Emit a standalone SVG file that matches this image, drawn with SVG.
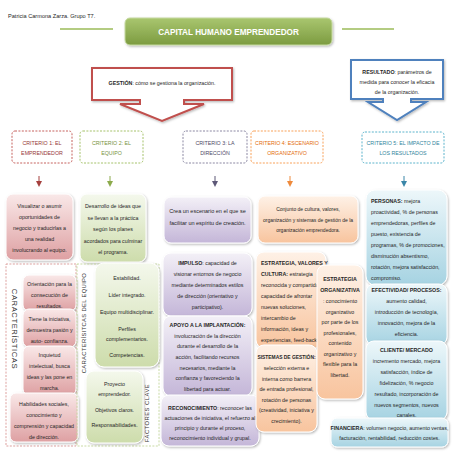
<svg xmlns="http://www.w3.org/2000/svg" width="453" height="453" viewBox="0 0 453 453">
<defs>
<linearGradient id="gRed" x1="0" y1="0" x2="0" y2="1"><stop offset="0" stop-color="#f9e8e8"/><stop offset="1" stop-color="#dea0a2"/></linearGradient>
<linearGradient id="gGreen" x1="0" y1="0" x2="0" y2="1"><stop offset="0" stop-color="#f4f8ec"/><stop offset="1" stop-color="#cddcab"/></linearGradient>
<linearGradient id="gPurple" x1="0" y1="0" x2="0" y2="1"><stop offset="0" stop-color="#f3f0f7"/><stop offset="1" stop-color="#c4b6d8"/></linearGradient>
<linearGradient id="gOrange" x1="0" y1="0" x2="0" y2="1"><stop offset="0" stop-color="#fef1e6"/><stop offset="1" stop-color="#f8c49e"/></linearGradient>
<linearGradient id="gBlue" x1="0" y1="0" x2="0" y2="1"><stop offset="0" stop-color="#edf7fa"/><stop offset="1" stop-color="#a6d3e2"/></linearGradient>
<linearGradient id="gTitle" x1="0" y1="0" x2="0" y2="1"><stop offset="0" stop-color="#a9c66f"/><stop offset="1" stop-color="#7c9b40"/></linearGradient>
<filter id="sh" x="-10%" y="-10%" width="125%" height="125%"><feDropShadow dx="1" dy="1.2" stdDeviation="0.9" flood-color="#000" flood-opacity="0.28"/></filter>
<marker id="aR" markerWidth="6" markerHeight="6" refX="3" refY="3" orient="auto" markerUnits="userSpaceOnUse"><path d="M0,0 L6,3 L0,6 Z" fill="#a5403e"/></marker>
<marker id="aG" markerWidth="6" markerHeight="6" refX="3" refY="3" orient="auto" markerUnits="userSpaceOnUse"><path d="M0,0 L6,3 L0,6 Z" fill="#8caa4c"/></marker>
<marker id="aP" markerWidth="6" markerHeight="6" refX="3" refY="3" orient="auto" markerUnits="userSpaceOnUse"><path d="M0,0 L6,3 L0,6 Z" fill="#5d5877"/></marker>
<marker id="aO" markerWidth="6" markerHeight="6" refX="3" refY="3" orient="auto" markerUnits="userSpaceOnUse"><path d="M0,0 L6,3 L0,6 Z" fill="#ee8a3c"/></marker>
<marker id="aB" markerWidth="6" markerHeight="6" refX="3" refY="3" orient="auto" markerUnits="userSpaceOnUse"><path d="M0,0 L6,3 L0,6 Z" fill="#3a86a8"/></marker>
</defs>
<style>
text{font-family:"Liberation Sans",Arial,sans-serif;fill:#262626;}
.t{font-size:5.3px;text-anchor:middle;}
.tl{font-size:5.3px;text-anchor:start;}
.b{font-weight:bold;}
.crit{font-size:5.3px;text-anchor:middle;}
.dash{fill:none;stroke-width:0.9;stroke-dasharray:2,1.4;}
.box{stroke:#ffffff;stroke-width:1;filter:url(#sh);}
.red{fill:url(#gRed);}
.green{fill:url(#gGreen);}
.purple{fill:url(#gPurple);}
.orange{fill:url(#gOrange);}
.blue{fill:url(#gBlue);}
.vt{font-size:7px;letter-spacing:0.6px;text-anchor:middle;fill:#333;}
.conn{stroke-width:1;fill:none;}
</style>
<rect width="453" height="453" fill="#ffffff"/>

<text x="8" y="18" style="font-size:5.6px">Patricia Carmona Zarza. Grupo T7.</text>

<g id="title">
<line x1="60" y1="29" x2="113" y2="29" stroke="#9bbb59" stroke-width="1.5"/>
<line x1="342" y1="29" x2="394" y2="29" stroke="#9bbb59" stroke-width="1.5"/>
<rect x="125" y="18" width="207" height="27" rx="5" fill="url(#gTitle)" stroke="#c5d9a0" stroke-width="1" filter="url(#sh)"/>
<text x="228.5" y="35" style="font-size:8.2px;font-weight:bold;fill:#ffffff;text-anchor:middle">CAPITAL HUMANO EMPRENDEDOR</text>
</g>

<g id="gestion">
<path d="M92,68 H232 V100 H184 V104 H204 L162,121 L120,104 H140 V100 H92 Z" fill="#ffffff" stroke="#c0504d" stroke-width="2" stroke-linejoin="miter" filter="url(#sh)"/>
<text class="t" x="162" y="85"><tspan class="b">GESTIÓN</tspan>: cómo se gestiona la organización.</text>
</g>

<g id="resultado">
<path d="M351,60 H443 V99 H411 V102 H426 L397,120 L368,102 H383 V99 H351 Z" fill="#ffffff" stroke="#4f81bd" stroke-width="2" filter="url(#sh)"/>
<text class="t" x="397" y="74"><tspan class="b">RESULTADO</tspan>: parámetros de</text>
<text class="t" x="397" y="84">medida para conocer la eficacia</text>
<text class="t" x="397" y="94">de la organización.</text>
</g>

<g id="criterio1">
<rect class="dash" x="12" y="131" width="60" height="32" rx="3" stroke="#c0504d"/>
<text class="crit" x="42" y="144.5" style="fill:#953735">CRITERIO 1: EL</text>
<text class="crit" x="42" y="155" style="fill:#953735">EMPRENDEDOR</text>
</g>
<g id="criterio2">
<rect class="dash" x="80" y="131" width="63" height="32" rx="3" stroke="#9bbb59"/>
<text class="crit" x="111.5" y="144.5" style="fill:#76923c">CRITERIO 2: EL</text>
<text class="crit" x="111.5" y="155" style="fill:#76923c">EQUIPO</text>
</g>
<g id="criterio3">
<rect class="dash" x="183" y="131" width="64" height="32" rx="3" stroke="#7f7c99"/>
<text class="crit" x="215" y="144.5" style="fill:#4e4a66">CRITERIO 3: LA</text>
<text class="crit" x="215" y="155" style="fill:#4e4a66">DIRECCIÓN</text>
</g>
<g id="criterio4">
<rect class="dash" x="251" y="131" width="72" height="32" rx="3" stroke="#f79646"/>
<text class="crit" x="287" y="144.5" style="fill:#e46c0a">CRITERIO 4: ESCENARIO</text>
<text class="crit" x="287" y="155" style="fill:#e46c0a">ORGANIZATIVO</text>
</g>
<g id="criterio5">
<rect class="dash" x="362" y="132" width="82" height="31" rx="3" stroke="#4bacc6"/>
<text class="crit" x="403" y="144.5" style="fill:#31859c">CRITERIO 5: EL IMPACTO DE</text>
<text class="crit" x="403" y="155" style="fill:#31859c">LOS RESULTADOS</text>
</g>

<g id="connectors">
<line class="conn" x1="39" y1="176" x2="39" y2="184" stroke="#a5403e" marker-end="url(#aR)"/>
<line class="conn" x1="110" y1="176" x2="110" y2="184" stroke="#8caa4c" marker-end="url(#aG)"/>
<line class="conn" x1="215" y1="176" x2="215" y2="184" stroke="#5d5877" marker-end="url(#aP)"/>
<line class="conn" x1="290" y1="176" x2="290" y2="184" stroke="#ee8a3c" marker-end="url(#aO)"/>
<line class="conn" x1="404" y1="176" x2="404" y2="184" stroke="#3a86a8" marker-end="url(#aB)"/>
</g>

<g id="emprendedor-desc">
<rect class="box red" x="6" y="194" width="67" height="66" rx="7"/>
<text class="t" x="39.5" y="208">Visualizar o asumir</text>
<text class="t" x="39.5" y="219">oportunidades de</text>
<text class="t" x="39.5" y="230">negocio y traducirlas a</text>
<text class="t" x="39.5" y="241">una realidad</text>
<text class="t" x="39.5" y="252">involucrando al equipo.</text>
</g>

<g id="equipo-desc">
<rect class="box green" x="80" y="194" width="66" height="68" rx="7"/>
<text class="t" x="113" y="208">Desarrollo de ideas que</text>
<text class="t" x="113" y="219.5">se llevan a la práctica</text>
<text class="t" x="113" y="231">según los planes</text>
<text class="t" x="113" y="242.5">acordados para culminar</text>
<text class="t" x="113" y="254">el programa.</text>
</g>

<g id="caracteristicas">
<rect class="dash" x="6" y="264" width="70" height="182" stroke="#d99694"/>
<text class="vt" transform="translate(11.5,329) rotate(90)" style="font-size:7.6px">CARACTERÍSTICAS</text>
</g>
<g id="car-orientacion">
<rect class="box red" x="23" y="275" width="53" height="36" rx="6"/>
<text class="t" x="49.5" y="286">Orientación para la</text>
<text class="t" x="49.5" y="297">consecución de</text>
<text class="t" x="49.5" y="307.5">resultados.</text>
</g>
<g id="car-iniciativa">
<rect class="box red" x="23" y="309" width="53" height="38" rx="6"/>
<text class="t" x="49.5" y="321">Tiene la iniciativa,</text>
<text class="t" x="49.5" y="332">demuestra pasión y</text>
<text class="t" x="49.5" y="343">auto- confianza.</text>
</g>
<g id="car-inquietud">
<rect class="box red" x="23" y="346" width="53" height="49" rx="6"/>
<text class="t" x="49.5" y="357">Inquietud</text>
<text class="t" x="49.5" y="368">intelectual, busca</text>
<text class="t" x="49.5" y="379">ideas y las pone en</text>
<text class="t" x="49.5" y="390">marcha.</text>
</g>
<g id="car-habilidades">
<rect class="box red" x="10" y="393" width="68" height="49" rx="6"/>
<text class="t" x="44" y="406">Habilidades sociales,</text>
<text class="t" x="44" y="417">conocimiento y</text>
<text class="t" x="44" y="428">comprensión y capacidad</text>
<text class="t" x="44" y="439">de dirección.</text>
</g>

<g id="equipo-area">
<rect class="dash" x="77" y="264" width="82" height="182" stroke="#c3d69b"/>
<text class="vt" transform="translate(86,323) rotate(-90)" style="font-size:5.8px;letter-spacing:0.35px">CARACTERÍSITCAS DEL EQUIPO</text>
<text class="vt" transform="translate(149,413) rotate(-90)" style="font-size:5.8px;letter-spacing:0.5px">FACTORES CLAVE</text>
</g>
<g id="equipo-caracteristicas">
<rect class="box green" x="95" y="263" width="64" height="104" rx="9"/>
<text class="t" x="127" y="280">Estabilidad.</text>
<text class="t" x="127" y="297">Líder integrado.</text>
<text class="t" x="127" y="314">Equipo multidisciplinar.</text>
<text class="t" x="127" y="331">Perfiles</text>
<text class="t" x="127" y="341">complementarios.</text>
<text class="t" x="127" y="357">Competencias.</text>
</g>
<g id="factores-clave">
<rect class="box green" x="86" y="371" width="57" height="72" rx="8"/>
<text class="t" x="114.5" y="386">Proyecto</text>
<text class="t" x="114.5" y="396">emprendedor.</text>
<text class="t" x="114.5" y="412">Objetivos claros.</text>
<text class="t" x="114.5" y="427">Responsabilidades.</text>
</g>

<g id="direccion-desc">
<rect class="box purple" x="164" y="197" width="87" height="46" rx="7"/>
<text class="t" x="207.5" y="213" style="font-size:5.5px">Crea un escenario en el que se</text>
<text class="t" x="207.5" y="225" style="font-size:5.5px">facilitar un espíritu de creación.</text>
</g>
<g id="impulso">
<rect class="box purple" x="163" y="253" width="89" height="63" rx="8"/>
<text class="t" x="207.5" y="264.5"><tspan class="b">IMPULSO</tspan>: capacidad de</text>
<text class="t" x="207.5" y="275.5">visionar entornos de negocio</text>
<text class="t" x="207.5" y="287">mediante determinados estilos</text>
<text class="t" x="207.5" y="298">de dirección (orientativo y</text>
<text class="t" x="207.5" y="309">participativo).</text>
</g>
<g id="apoyo">
<rect class="box purple" x="163" y="316" width="89" height="80" rx="8"/>
<text class="t b" x="207.5" y="327">APOYO A LA IMPLANTACIÓN:</text>
<text class="t" x="207.5" y="337.5">involucración de la dirección</text>
<text class="t" x="207.5" y="348">durante el desarrollo de la</text>
<text class="t" x="207.5" y="359">acción, facilitando recursos</text>
<text class="t" x="207.5" y="369.5">necesarios, mediante la</text>
<text class="t" x="207.5" y="380">confianza y favoreciendo la</text>
<text class="t" x="207.5" y="390.5">libertad para actuar.</text>
</g>
<g id="reconocimiento">
<rect class="box purple" x="161" y="395" width="98" height="51" rx="8"/>
<text class="t" x="210" y="410"><tspan class="b">RECONOCIMIENTO</tspan>: reconocer las</text>
<text class="t" x="210" y="420">actuaciones de iniciativa, el refuerzo al</text>
<text class="t" x="210" y="430">principio y durante el proceso,</text>
<text class="t" x="210" y="440">reconocimiento individual y grupal.</text>
</g>

<g id="escenario-desc">
<rect class="box orange" x="258" y="196" width="100" height="47" rx="7"/>
<text class="t" x="308" y="211" style="font-size:5px">Conjunto de cultura, valores,</text>
<text class="t" x="308" y="221.5" style="font-size:5px">organización y sistemas de gestión de la</text>
<text class="t" x="308" y="232" style="font-size:5px">organización emprendedora.</text>
</g>
<g id="valores">
<rect class="box orange" x="256" y="252" width="70" height="96" rx="8"/>
<text class="tl" x="261" y="265"><tspan class="b">ESTRATEGIA, VALORES Y</tspan></text>
<text class="tl" x="261" y="276"><tspan class="b">CULTURA:</tspan> estrategia</text>
<text class="tl" x="261" y="287">reconocida y compartida,</text>
<text class="tl" x="261" y="298">capacidad de afrontar</text>
<text class="tl" x="261" y="309">nuevas soluciones,</text>
<text class="tl" x="261" y="319.5">intercambio de</text>
<text class="tl" x="261" y="330.5">información, ideas y</text>
<text class="tl" x="261" y="341.5">experiencias, feed-back.</text>
</g>
<g id="sistemas">
<rect class="box orange" x="256" y="345" width="61" height="87" rx="8"/>
<text class="t b" x="286.5" y="359" style="font-size:4.9px">SISTEMAS DE GESTIÓN:</text>
<text class="t" x="286.5" y="370">selección externa e</text>
<text class="t" x="286.5" y="380.5">interna como barrera</text>
<text class="t" x="286.5" y="391">de entrada profesional,</text>
<text class="t" x="286.5" y="402">rotación de personas</text>
<text class="t" x="286.5" y="412">(creatividad, iniciativa y</text>
<text class="t" x="286.5" y="422.5">crecimiento).</text>
</g>
<g id="organizativa">
<rect class="box orange" x="317" y="265" width="46" height="134" rx="8"/>
<text class="t b" x="340" y="281">ESTRATEGIA</text>
<text class="t b" x="340" y="292">ORGANIZATIVA</text>
<text class="t" x="340" y="302.5">: conocimiento</text>
<text class="t" x="340" y="313.5">organizativo</text>
<text class="t" x="340" y="324">por parte de los</text>
<text class="t" x="340" y="334.5">profesionales,</text>
<text class="t" x="340" y="345">contenido</text>
<text class="t" x="340" y="355.5">organizativo y</text>
<text class="t" x="340" y="366">flexible para la</text>
<text class="t" x="340" y="377">libertad.</text>
</g>

<g id="personas">
<rect class="box blue" x="366" y="190" width="81" height="95" rx="9"/>
<text class="tl" x="371" y="202.5"><tspan class="b">PERSONAS:</tspan> mejora</text>
<text class="tl" x="371" y="214">proactividad, % de personas</text>
<text class="tl" x="371" y="225">emprendedoras, perfiles de</text>
<text class="tl" x="371" y="236">puesto, existencia de</text>
<text class="tl" x="371" y="247">programas, % de promociones,</text>
<text class="tl" x="371" y="258">disminución absentismo,</text>
<text class="tl" x="371" y="269">rotación, mejora satisfacción,</text>
<text class="tl" x="371" y="280">compromiso.</text>
</g>
<g id="efectividad">
<rect class="box blue" x="366" y="284" width="81" height="61" rx="8"/>
<text class="t b" x="406.5" y="292">EFECTIVIDAD/ PROCESOS:</text>
<text class="t" x="406.5" y="303">aumento calidad,</text>
<text class="t" x="406.5" y="314">introducción de tecnología,</text>
<text class="t" x="406.5" y="325">innovación, mejora de la</text>
<text class="t" x="406.5" y="336">eficiencia.</text>
</g>
<g id="cliente">
<rect class="box blue" x="366" y="341" width="81" height="79" rx="8"/>
<text class="t b" x="406.5" y="351.5">CLIENTE/ MERCADO</text>
<text class="t" x="406.5" y="362.5">incremento mercado, mejora</text>
<text class="t" x="406.5" y="373.5">satisfacción, índice de</text>
<text class="t" x="406.5" y="384.5">fidelización, % negocio</text>
<text class="t" x="406.5" y="395.5">resultado, incorporación de</text>
<text class="t" x="406.5" y="406.5">nuevos segmentos, nuevos</text>
<text class="t" x="406.5" y="417">canales.</text>
</g>
<g id="financiera">
<rect class="box blue" x="331" y="418" width="117" height="29" rx="6"/>
<text class="t" x="389.5" y="429.5"><tspan class="b">FINANCIERA</tspan>: volumen negocio, aumento ventas,</text>
<text class="t" x="389.5" y="440">facturación, rentabilidad, reducción costes.</text>
</g>
</svg>
